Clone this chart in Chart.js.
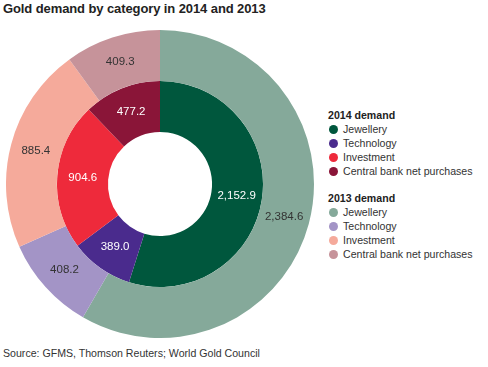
<!DOCTYPE html>
<html><head><meta charset="utf-8">
<script src="https://cdn.jsdelivr.net/npm/chart.js@4/dist/chart.umd.min.js"></script>
<style>
html,body{margin:0;padding:0;background:#fff;width:488px;height:367px;overflow:hidden;font-family:"Liberation Sans",Arial,sans-serif;}
#title{position:absolute;left:3px;top:1px;font-size:13px;font-weight:bold;color:#222;letter-spacing:-0.1px;}
#wrap{position:absolute;left:6px;top:30px;width:308px;height:308px;}
#legend{position:absolute;left:328px;top:108px;font-size:10.6px;color:#333;}
.lh{font-weight:bold;color:#222;height:14px;line-height:14px;}
.li{height:14px;line-height:14px;white-space:nowrap;}
.dot{display:inline-block;width:9px;height:9px;border-radius:50%;margin:0 5px 0 1px;vertical-align:-1px;}
.gap{height:13px;}
#source{position:absolute;left:3px;top:347px;font-size:10.6px;color:#333;}
</style></head>
<body>
<div id="title">Gold demand by category in 2014 and 2013</div>
<div id="wrap"><canvas id="c"></canvas></div>
<div id="legend"></div>
<div id="source">Source: GFMS, Thomson Reuters; World Gold Council</div>
<script>
const categories = ["Jewellery", "Technology", "Investment", "Central bank net purchases"];
const demand2014 = [2152.9, 389.0, 904.6, 477.2];
const demand2013 = [2384.6, 408.2, 885.4, 409.3];
const colors2014 = ["#00573d", "#4a2b8d", "#ee2a3b", "#8a1538"];
const colors2013 = ["#85a99a", "#a394c6", "#f5aa9b", "#c6939a"];
const seriesNames = ["2014 demand", "2013 demand"];

const fmt = v => v.toLocaleString("en-US", {minimumFractionDigits: 1, maximumFractionDigits: 1});

// legend
const lg = document.getElementById("legend");
function addGroup(name, cols, first) {
  if (!first) { const g = document.createElement("div"); g.className = "gap"; lg.appendChild(g); }
  const h = document.createElement("div"); h.className = "lh"; h.textContent = name; lg.appendChild(h);
  categories.forEach((c, i) => {
    const d = document.createElement("div"); d.className = "li";
    const s = document.createElement("span"); s.className = "dot"; s.style.background = cols[i];
    d.appendChild(s); d.appendChild(document.createTextNode(c)); lg.appendChild(d);
  });
}
addGroup(seriesNames[0], colors2014, true);
addGroup(seriesNames[1], colors2013, false);

const labelPlugin = {
  id: "sliceLabels",
  afterDatasetsDraw(chart) {
    const ctx = chart.ctx;
    ctx.save();
    ctx.font = "11.5px 'Liberation Sans', Arial, sans-serif";
    ctx.textAlign = "center";
    ctx.textBaseline = "middle";
    chart.data.datasets.forEach((ds, di) => {
      const meta = chart.getDatasetMeta(di);
      meta.data.forEach((arc, i) => {
        const p = arc.tooltipPosition();
        ctx.fillStyle = ds.labelColor;
        ctx.fillText(fmt(ds.data[i]), p.x, p.y);
      });
    });
    ctx.restore();
  }
};

new Chart(document.getElementById("c"), {
  type: "doughnut",
  data: {
    labels: categories,
    datasets: [
      { label: "2013", data: demand2013, backgroundColor: colors2013, borderWidth: 0, labelColor: "#333" },
      { label: "2014", data: demand2014, backgroundColor: colors2014, borderWidth: 0, labelColor: "#fff" }
    ]
  },
  options: {
    responsive: true,
    maintainAspectRatio: false,
    animation: false,
    cutout: "33.8%",
    layout: { padding: 0 },
    plugins: { legend: { display: false }, tooltip: { enabled: false }, title: { display: false } }
  },
  plugins: [labelPlugin]
});
</script>
</body></html>
